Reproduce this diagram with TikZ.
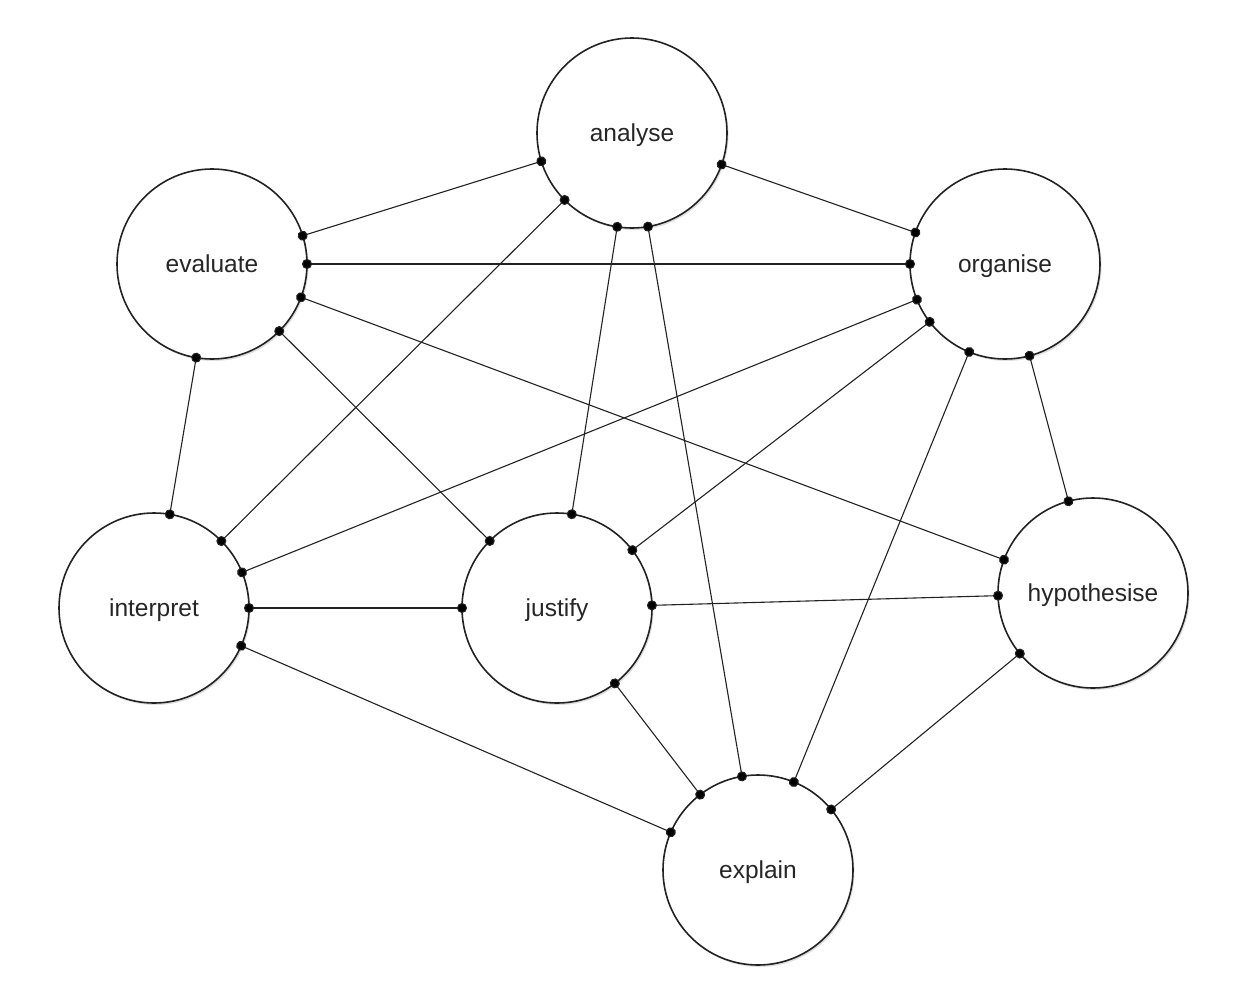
\documentclass[tikz,border=0pt]{standalone}
\usepackage{fontspec}
\setmainfont{Liberation Sans}
\usetikzlibrary{arrows.meta,shadows}
\definecolor{edgecol}{HTML}{222222}
\definecolor{textcol}{HTML}{262626}
\tikzset{
  concept/.style={circle, draw=edgecol, line width=1.6pt, fill=white, minimum size=190pt, inner sep=0pt, outer sep=0pt,
    font=\fontsize{24.5}{29}\selectfont, text=textcol, text depth=0pt, yshift=0pt,
    drop shadow={shadow xshift=1.5pt, shadow yshift=-2pt, opacity=0.25}},
  link/.style={draw=edgecol, line width=1.1pt, {Circle[length=10pt,fill=black]}-{Circle[length=10pt,fill=black]}, shorten <=-5pt, shorten >=-5pt}
}
\begin{document}
\begin{tikzpicture}[x=1pt,y=-1pt]
\useasboundingbox (0,0) rectangle (1248,988);
\node[concept] (analyse) at (632,133) {analyse};
\node[concept] (evaluate) at (212,264) {evaluate};
\node[concept] (organise) at (1005,264) {organise};
\node[concept] (interpret) at (154,608) {interpret};
\node[concept] (justify) at (557,608) {justify};
\node[concept] (hypothesise) at (1093,593) {hypothesise};
\node[concept] (explain) at (758,870) {explain};
\draw[link] (analyse) -- (evaluate);
\draw[link] (analyse) -- (organise);
\draw[link] (evaluate) -- (organise);
\draw[link] (evaluate) -- (hypothesise);
\draw[link] (evaluate) -- (interpret);
\draw[link] (evaluate) -- (justify);
\draw[link] (analyse) -- (interpret);
\draw[link] (analyse) -- (justify);
\draw[link] (analyse) -- (explain);
\draw[link] (organise) -- (interpret);
\draw[link] (organise) -- (justify);
\draw[link] (organise) -- (explain);
\draw[link] (organise) -- (hypothesise);
\draw[link] (interpret) -- (justify);
\draw[link] (interpret) -- (explain);
\draw[link] (justify) -- (hypothesise);
\draw[link] (justify) -- (explain);
\draw[link] (hypothesise) -- (explain);
\end{tikzpicture}
\end{document}
